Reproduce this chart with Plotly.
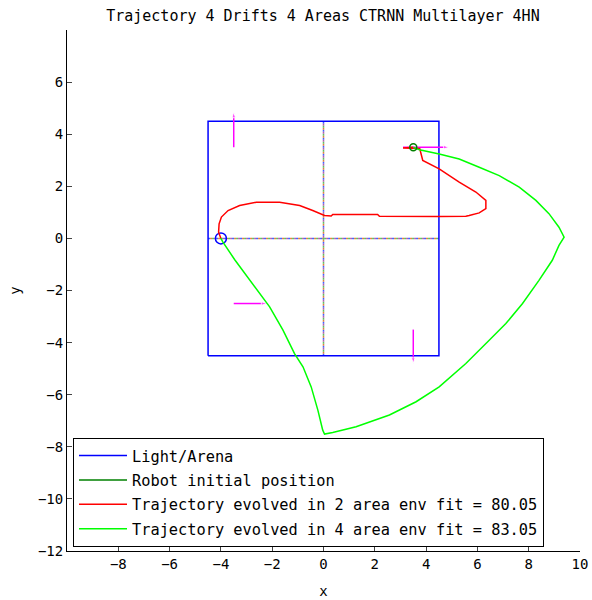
import plotly.graph_objects as go

# Arena boundary (square) and centre cross
arena_x = [-4.5, 4.5, 4.5, -4.5, -4.5]
arena_y = [-4.5, -4.5, 4.5, 4.5, -4.5]
cross_h_x = [-4.5, 4.5]
cross_h_y = [0, 0]
cross_v_x = [0, 0]
cross_v_y = [-4.5, 4.5]

# Light and robot start
light_x = [-4.0]
light_y = [0.0]
robot_x = [3.5]
robot_y = [3.5]

# Drift arrows: start and end points
drift_x0 = [-3.5, 3.1, -3.5, 3.5]
drift_y0 = [3.5, 3.5, -2.5, -3.5]
drift_x1 = [-3.5, 4.9, -2.2, 3.5]
drift_y1 = [4.85, 3.5, -2.5, -4.8]

# Trajectory evolved in 2 area env
traj2_x = [3.5, 3.1, 3.75, 3.8, 3.87, 4.51, 5.29, 5.94, 6.33, 6.33, 6.07, 5.68, 5.55,
           4.51, 2.18, 2.11, 0.36, 0.3, 0.04, -0.42, -0.93, -1.71, -2.62, -3.27, -3.72,
           -3.98, -4.07, -4.09, -4.0]
traj2_y = [3.5, 3.47, 3.45, 3.24, 2.99, 2.67, 2.16, 1.78, 1.46, 1.14, 0.98, 0.88, 0.85,
           0.84, 0.85, 0.92, 0.92, 0.86, 0.88, 1.07, 1.26, 1.39, 1.39, 1.26, 1.07,
           0.82, 0.56, 0.24, 0.0]

# Trajectory evolved in 4 area env
traj4_x = [3.5, 3.74, 4.51, 5.29, 6.07, 6.85, 7.63, 8.28, 8.79, 9.18, 9.38, 9.18, 8.92,
           8.4, 7.76, 7.11, 6.46, 5.55, 4.51, 3.61, 2.57, 1.27, 0.36, 0.04, -0.03, -0.22,
           -0.48, -0.8, -1.13, -1.58, -2.1, -2.49, -3.0, -3.46, -3.92, -4.0]
traj4_y = [3.5, 3.4, 3.24, 3.05, 2.73, 2.41, 1.97, 1.46, 0.95, 0.43, 0.05, -0.27, -0.84,
           -1.61, -2.5, -3.27, -3.91, -4.8, -5.7, -6.27, -6.78, -7.23, -7.45, -7.51, -7.36,
           -6.59, -5.7, -4.93, -4.42, -3.52, -2.63, -2.12, -1.42, -0.82, -0.14, 0.0]

fit2 = 80.05
fit4 = 83.05

x_ticks = [-8, -6, -4, -2, 0, 2, 4, 6, 8, 10]
y_ticks = [-12, -10, -8, -6, -4, -2, 0, 2, 4, 6]

BLUE = "#0000ff"
DGREEN = "#008000"
RED = "#ff0000"
GREEN = "#00ff00"
MAGENTA = "#ff00ff"
MONO = "DejaVu Sans Mono"

fig = go.Figure()

# Cross lines drawn as interleaved multi-coloured dots
dash_colors = ["#4060ff", "#e08040", "#60c060", "#b060b0"]
dash_patterns = ["2px,6px", "0px,2px,2px,4px", "0px,4px,2px,2px", "0px,6px,2px,0px"]
for col, pat in zip(dash_colors, dash_patterns):
    for cx, cy in ((cross_h_x, cross_h_y), (cross_v_x, cross_v_y)):
        fig.add_trace(go.Scatter(x=cx, y=cy, mode="lines",
                                 line=dict(color=col, width=1.5, dash=pat),
                                 showlegend=False, hoverinfo="skip"))

fig.add_trace(go.Scatter(x=arena_x, y=arena_y, mode="lines", name="Light/Arena",
                         legendgroup="a", line=dict(color=BLUE, width=1.5)))
fig.add_trace(go.Scatter(x=light_x, y=light_y, mode="markers", showlegend=False,
                         marker=dict(symbol="circle-open", size=11, color=BLUE,
                                     line=dict(width=1.5, color=BLUE))))

# Drift arrows
for x0, y0, x1, y1 in zip(drift_x0, drift_y0, drift_x1, drift_y1):
    fig.add_trace(go.Scatter(x=[x0, x1], y=[y0, y1], mode="lines+markers",
                             line=dict(color=MAGENTA, width=1.5),
                             marker=dict(symbol=["line-ns", "arrow"], size=[0, 6],
                                         angleref="previous", color=MAGENTA),
                             showlegend=False, hoverinfo="skip"))

fig.add_trace(go.Scatter(x=robot_x, y=robot_y, mode="lines", name="Robot initial position",
                         legendgroup="b", line=dict(color=DGREEN, width=1.5)))
fig.add_trace(go.Scatter(x=traj2_x, y=traj2_y, mode="lines",
                         name=f"Trajectory evolved in 2 area env fit = {fit2:.2f}",
                         legendgroup="c", line=dict(color=RED, width=1.5)))
fig.add_trace(go.Scatter(x=traj4_x, y=traj4_y, mode="lines",
                         name=f"Trajectory evolved in 4 area env fit = {fit4:.2f}",
                         legendgroup="d", line=dict(color=GREEN, width=1.5)))
fig.add_trace(go.Scatter(x=robot_x, y=robot_y, mode="markers", showlegend=False,
                         marker=dict(symbol="circle-open", size=7, color=DGREEN,
                                     line=dict(width=1.5, color=DGREEN))))

fig.update_layout(
    width=592, height=600,
    margin=dict(l=67, r=12, t=30, b=49),
    paper_bgcolor="white", plot_bgcolor="white",
    font=dict(family=MONO, size=14, color="black"),
    title=dict(text="Trajectory 4 Drifts 4 Areas CTRNN Multilayer 4HN",
               font=dict(family=MONO, size=15), x=0.5455, xanchor="center",
               y=0.973, yanchor="middle"),
    legend=dict(x=0.0117, y=0.0075, xanchor="left", yanchor="bottom",
                bordercolor="black", borderwidth=1, bgcolor="white",
                font=dict(family=MONO, size=15.3), tracegroupgap=1.5,
                itemwidth=48),
    showlegend=True,
)
fig.update_xaxes(range=[-10, 10], tickvals=x_ticks, ticks="inside", ticklen=5,
                 showline=True, linecolor="black", linewidth=1, mirror=False,
                 showgrid=False, zeroline=False, automargin=False,
                 title=dict(text="x", font=dict(family=MONO, size=14), standoff=15))
fig.update_yaxes(range=[-12, 8], tickvals=y_ticks, ticks="inside", ticklen=5,
                 showline=True, linecolor="black", linewidth=1, mirror=False,
                 showgrid=False, zeroline=False, automargin=False,
                 title=dict(text="y", font=dict(family=MONO, size=14), standoff=14))

fig.write_html("out.html")
